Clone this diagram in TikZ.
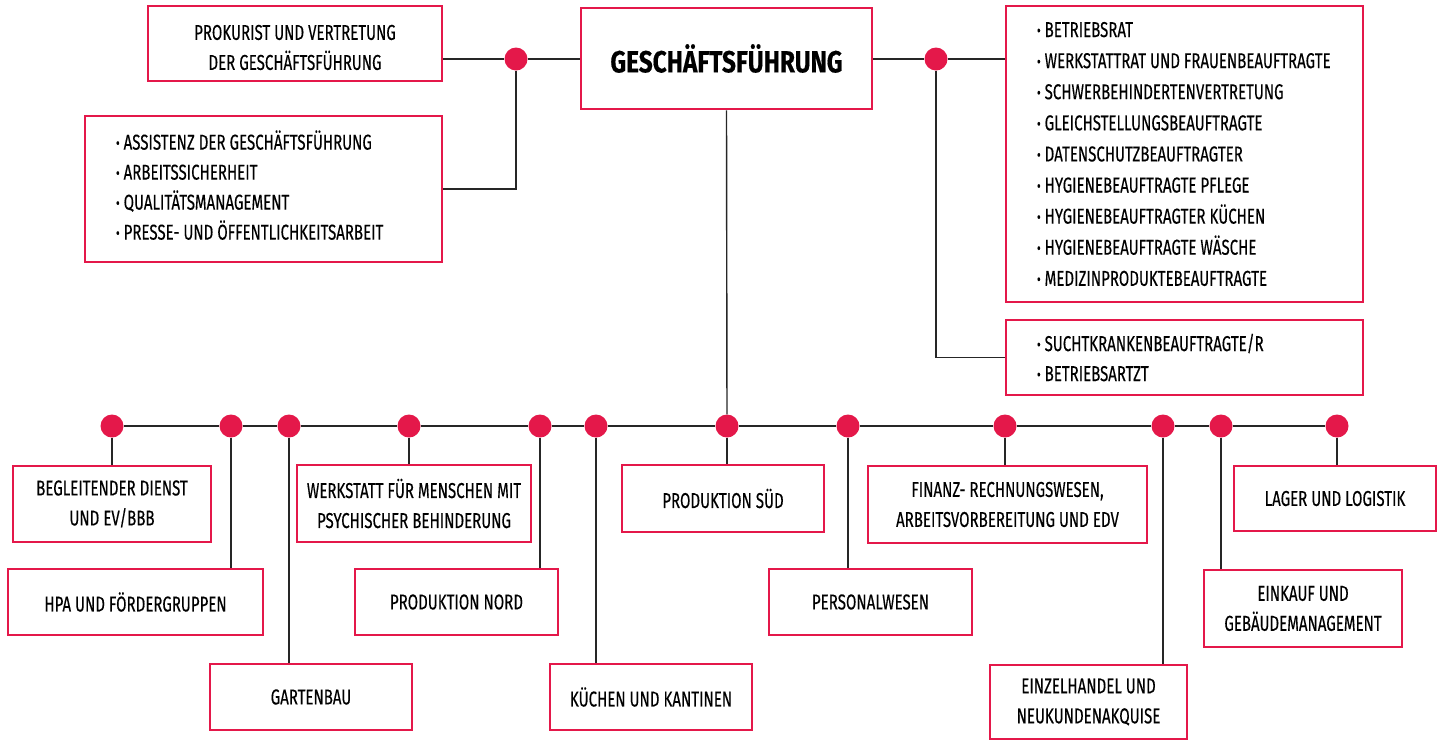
\documentclass[tikz,border=0pt]{standalone}
\usepackage{fontspec}
\setmainfont[FakeStretch=0.7, FakeBold=0.3]{Fira Sans}
\newfontfamily\titlefont[FakeStretch=0.8, FakeBold=0.3]{Fira Sans}

\definecolor{orgred}{HTML}{E4184A}
\definecolor{orgline}{HTML}{262626}

\newcommand{\bul}{\raisebox{1pt}{\scalebox{0.75}{\textbullet}}\ }

\tikzset{
    orgbox/.style={draw=orgred, line width=2.8pt, fill=white, align=center,
	inner sep=0pt, font=\fontsize{21.5}{30}\selectfont},
    listbox/.style={orgbox, align=flush left, inner xsep=31pt, text width=295pt},
    joint/.style={circle, fill=orgred, minimum size=23pt, inner sep=0pt},
    conn/.style={draw=orgline, line width=1.4pt}
}

\begin{document}
\begin{tikzpicture}[x=1pt, y=-1pt]
    \useasboundingbox (0, 0) rectangle (1437, 740);

    % top row
    \node[orgbox, minimum width=291pt, minimum height=101pt,
	font=\fontsize{30.5}{30}\titlefont\bfseries] (gf) at (726.5, 58.5)
	{GESCHÄFTSFÜHRUNG};
    \node[orgbox, minimum width=294pt, minimum height=75pt] (prok) at (295, 43.5)
	{\rule{0pt}{23pt}PROKURIST UND VERTRETUNG\\DER GESCHÄFTSFÜHRUNG};
    \node[listbox, minimum height=146pt] (assist) at (263.5, 189)
	{\bul ASSISTENZ DER GESCHÄFTSFÜHRUNG\\
	 \bul ARBEITSSICHERHEIT\\
	 \bul QUALITÄTSMANAGEMENT\\
	 \bul PRESSE- UND ÖFFENTLICHKEITSARBEIT\rule[-8pt]{0pt}{8pt}};
    \node[listbox, minimum height=296pt, font=\fontsize{21.5}{31.1}\selectfont]
	(rat) at (1184.5, 154)
	{\bul BETRIEBSRAT\\
	 \bul WERKSTATTRAT UND FRAUENBEAUFTRAGTE\\
	 \bul SCHWERBEHINDERTENVERTRETUNG\\
	 \bul GLEICHSTELLUNGSBEAUFTRAGTE\\
	 \bul DATENSCHUTZBEAUFTRAGTER\\
	 \bul HYGIENEBEAUFTRAGTE PFLEGE\\
	 \bul HYGIENEBEAUFTRAGTER KÜCHEN\\
	 \bul HYGIENEBEAUFTRAGTE WÄSCHE\\
	 \bul MEDIZINPRODUKTEBEAUFTRAGTE};
    \node[listbox, minimum height=75pt] (sucht) at (1184.5, 357.5)
	{\bul SUCHTKRANKENBEAUFTRAGTE/R\\
	 \bul BETRIEBSARTZT};

    \node[joint] (jl) at (516, 59) {};
    \node[joint] (jr) at (936, 59) {};
    \draw[conn] (prok.east |- jl) -- (jl) -- (gf.west |- jl);
    \draw[conn] (jl) |- (assist);
    \draw[conn] (gf.east |- jr) -- (jr) -- (rat.west |- jr);
    \draw[conn] (jr) |- (sucht);

    % departments
    \node[orgbox, minimum width=198pt, minimum height=76pt] (beg) at (112, 504)
	{BEGLEITENDER DIENST\\UND EV/BBB};
    \node[orgbox, minimum width=255pt, minimum height=66pt] (hpa) at (135.5, 602)
	{HPA UND FÖRDERGRUPPEN};
    \node[orgbox, minimum width=202pt, minimum height=66pt] (garten) at (311, 697)
	{GARTENBAU};
    \node[orgbox, minimum width=234pt, minimum height=77pt] (wfbm) at (414, 503.5)
	{WERKSTATT FÜR MENSCHEN MIT\\PSYCHISCHER BEHINDERUNG};
    \node[orgbox, minimum width=203pt, minimum height=66pt] (nord) at (456.5, 602)
	{PRODUKTION NORD};
    \node[orgbox, minimum width=202pt, minimum height=66pt] (kueche) at (651, 697)
	{KÜCHEN UND KANTINEN};
    \node[orgbox, minimum width=202pt, minimum height=67pt] (sued) at (723, 498.5)
	{PRODUKTION SÜD};
    \node[orgbox, minimum width=203pt, minimum height=66pt] (personal) at (870.5, 602)
	{PERSONALWESEN};
    \node[orgbox, minimum width=279pt, minimum height=77pt] (finanz) at (1007.5, 504.5)
	{FINANZ- RECHNUNGSWESEN,\\ARBEITSVORBEREITUNG UND EDV};
    \node[orgbox, minimum width=197pt, minimum height=74pt] (handel) at (1088.5, 702)
	{EINZELHANDEL UND\\NEUKUNDENAKQUISE};
    \node[orgbox, minimum width=198pt, minimum height=77pt] (einkauf) at (1303, 608.5)
	{EINKAUF UND\\GEBÄUDEMANAGEMENT};
    \node[orgbox, minimum width=202pt, minimum height=65pt] (lager) at (1335, 498.5)
	{LAGER UND LOGISTIK};

    \foreach \name/\x in {beg/112, hpa/231, garten/289, wfbm/409, nord/540,
	kueche/596, sued/727, personal/848, finanz/1005, handel/1163,
	einkauf/1221, lager/1337}
	\node[joint] (j-\name) at (\x, 426) {};

    \draw[conn] (j-beg) -- (j-hpa) -- (j-garten) -- (j-wfbm) -- (j-nord)
	-- (j-kueche) -- (j-sued) -- (j-personal) -- (j-finanz) -- (j-handel)
	-- (j-einkauf) -- (j-lager);
    \draw[conn] (gf.south) -- (j-sued);
    \foreach \name in {beg, hpa, garten, wfbm, nord, kueche, sued, personal,
	finanz, handel, einkauf, lager}
	\draw[conn] (j-\name) -- (j-\name |- \name.north);
\end{tikzpicture}
\end{document}
